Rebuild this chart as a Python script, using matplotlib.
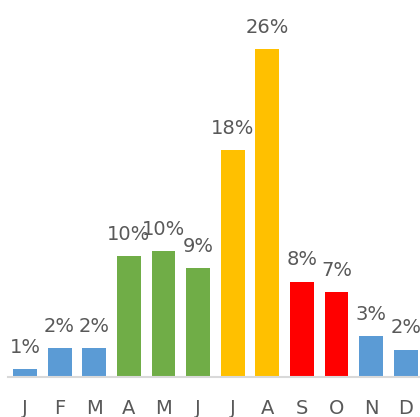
import matplotlib
matplotlib.use('Agg')
import matplotlib.pyplot as plt

months = ['J', 'F', 'M', 'A', 'M', 'J', 'J', 'A', 'S', 'O', 'N', 'D']
share = [0.63, 2.28, 2.28, 9.58, 10.0, 8.65, 17.98, 26.0, 7.55, 6.72, 3.25, 2.17]
colors = ['#5B9BD5', '#5B9BD5', '#5B9BD5',
          '#70AD47', '#70AD47', '#70AD47',
          '#FFC000', '#FFC000',
          '#FF0000', '#FF0000',
          '#5B9BD5', '#5B9BD5']

text_col = '#595959'
plt.rcParams['font.family'] = 'DejaVu Sans'

fig = plt.figure(figsize=(4.2, 4.17), dpi=100)
ax = fig.add_axes([0.0183, 0.0959, 0.989, 0.846])

x = list(range(len(months)))
bars = ax.bar(x, share, width=0.69, color=colors)

for b, v in zip(bars, share):
    ax.annotate(f"{round(v)}%", (b.get_x() + b.get_width() / 2, v),
                xytext=(0, 9), textcoords='offset points',
                ha='center', va='bottom', fontsize=14, color=text_col)

ax.set_xlim(-0.5, 11.5)
ax.set_ylim(0, 28)
ax.set_xticks(x)
ax.set_xticklabels(months, fontsize=14, color=text_col)
ax.tick_params(axis='x', length=0, pad=16)
ax.set_yticks([])
for s in ['top', 'right', 'left']:
    ax.spines[s].set_visible(False)
ax.spines['bottom'].set_color('#D9D9D9')
ax.spines['bottom'].set_linewidth(1.5)

fig.savefig('out.png', dpi=100)
